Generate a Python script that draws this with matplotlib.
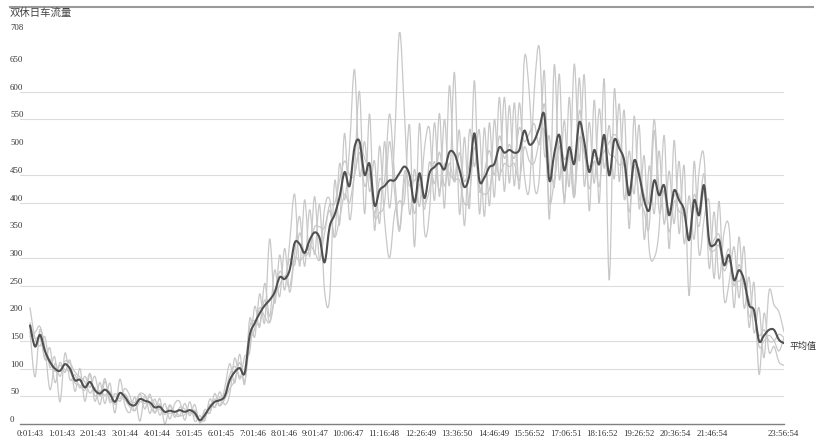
import numpy as np
import matplotlib
matplotlib.use('Agg')
import matplotlib.pyplot as plt
from matplotlib.lines import Line2D
from matplotlib.path import Path
from matplotlib.patches import PathPatch
from matplotlib.transforms import blended_transform_factory

plt.rcParams['font.family'] = ['Liberation Serif', 'Noto Sans CJK SC']

# ---------------------------------- data ---------------- #

title = '双休日车流量'

tick_labels = ['0:01:43', '1:01:43', '2:01:43', '3:01:44', '4:01:44', '5:01:45',
               '6:01:45', '7:01:46', '8:01:46', '9:01:47', '10:06:47', '11:16:48',
               '12:26:49', '13:36:50', '14:46:49', '15:56:52', '17:06:51', '18:16:52',
               '19:26:52', '20:36:54', '21:46:54', '23:56:54']

yticks = [0, 50, 100, 150, 200, 250, 300, 350, 400, 450, 500, 550, 600, 650, 708]

# average over the weekends
avg = [178, 140, 161, 132, 112, 100, 96, 108, 100, 79,
       80, 66, 76, 61, 55, 62, 54, 40, 56, 49,
       36, 34, 45, 42, 39, 30, 31, 22, 24, 22,
       25, 22, 25, 20, 7, 16, 30, 40, 43, 50,
       79, 94, 101, 92, 160, 182, 200, 214, 224, 238,
       265, 262, 278, 327, 325, 309, 332, 346, 336, 292,
       356, 378, 410, 455, 430, 500, 510, 450, 470, 395,
       422, 430, 440, 440, 453, 465, 450, 400, 453, 408,
       453, 464, 471, 460, 491, 488, 460, 428, 450, 525,
       440, 445, 464, 470, 500, 490, 495, 490, 495, 530,
       505, 512, 535, 558, 440, 489, 522, 458, 500, 470,
       545, 510, 455, 495, 469, 522, 449, 513, 498, 476,
       413, 476, 449, 404, 386, 440, 413, 431, 377, 422,
       404, 386, 332, 404, 377, 431, 332, 323, 332, 287,
       305, 260, 278, 260, 215, 205, 150, 160, 170, 170, 152, 146]

# single weekends
day1 = [210, 155, 141, 157, 102, 120, 40, 128, 80, 89,
        65, 86, 66, 86, 50, 82, 39, 55, 46, 64,
        51, 24, 55, 27, 54, 20, 46, 0, 34, 17,
        15, 37, 15, 35, 2, 26, 20, 55, 33, 65,
        109, 74, 126, 72, 190, 157, 235, 184, 334, 218,
        305, 242, 328, 415, 285, 405, 302, 411, 296, 390,
        406, 338, 470, 405, 500, 640, 450, 510, 420, 475,
        362, 510, 390, 510, 708, 560, 380, 460, 393, 498,
        533, 404, 561, 390, 611, 438, 530, 358, 530, 465,
        530, 375, 544, 410, 590, 420, 575, 430, 580, 450,
        425, 602, 680, 488, 520, 429, 632, 398, 590, 410,
        625, 430, 545, 435, 569, 462, 539, 443, 578, 406,
        493, 416, 539, 334, 466, 380, 493, 361, 457, 362,
        474, 326, 412, 334, 457, 481, 282, 383, 262, 347,
        355, 210, 338, 210, 265, 165, 210, 120, 240, 215, 202, 166]

day2 = [168, 85, 171, 117, 137, 75, 111, 93, 115, 59,
        100, 41, 91, 41, 75, 37, 74, 20, 81, 34,
        21, 49, 5, 52, 19, 45, 16, 37, 9, 37,
        40, 7, 40, 5, 15, 6, 45, 30, 58, 35,
        54, 119, 81, 122, 130, 212, 175, 254, 194, 278,
        230, 317, 238, 307, 375, 285, 387, 306, 396, 240,
        228, 438, 360, 525, 370, 460, 600, 380, 560, 350,
        502, 370, 300, 380, 403, 405, 540, 320, 543, 348,
        383, 544, 411, 550, 431, 635, 380, 518, 390, 620,
        380, 535, 394, 550, 440, 590, 435, 580, 425, 660,
        595, 432, 445, 638, 370, 649, 442, 548, 430, 650,
        475, 630, 385, 585, 399, 622, 260, 603, 438, 566,
        353, 556, 389, 484, 316, 300, 353, 521, 317, 512,
        344, 466, 232, 474, 307, 371, 402, 263, 402, 227,
        255, 320, 228, 320, 175, 255, 90, 200, 130, 140, 112, 106]

day3 = [158, 165, 176, 137, 62, 110, 86, 113, 110, 94,
        85, 76, 56, 66, 35, 77, 44, 50, 41, 54,
        41, 39, 55, 52, 34, 20, 36, 17, 34, 12,
        30, 27, 20, 25, 4, 11, 35, 30, 48, 55,
        89, 104, 86, 97, 175, 187, 180, 224, 184, 228,
        275, 262, 298, 287, 345, 305, 317, 356, 356, 355,
        396, 398, 440, 475, 450, 450, 500, 480, 450, 380,
        442, 440, 560, 450, 353, 455, 430, 440, 443, 388,
        473, 434, 491, 430, 471, 438, 490, 438, 470, 515,
        420, 455, 494, 450, 520, 480, 505, 480, 535, 510,
        525, 542, 505, 578, 470, 439, 512, 478, 490, 410,
        565, 490, 465, 485, 479, 492, 509, 523, 508, 466,
        423, 466, 459, 414, 406, 550, 423, 421, 387, 412,
        414, 376, 342, 414, 387, 451, 322, 333, 342, 297,
        315, 250, 288, 250, 225, 195, 160, 170, 150, 150, 162, 156]

day4 = [183, 155, 156, 117, 117, 95, 106, 98, 95, 74,
        70, 61, 91, 51, 60, 52, 59, 35, 56, 44,
        31, 24, 40, 37, 49, 35, 26, 22, 19, 22,
        15, 17, 25, 15, 7, 21, 20, 45, 33, 45,
        64, 79, 111, 77, 145, 172, 210, 194, 184, 228,
        250, 267, 248, 299, 295, 305, 322, 311, 296, 345,
        386, 338, 370, 415, 400, 450, 490, 430, 450, 375,
        382, 400, 510, 420, 348, 440, 450, 380, 433, 398,
        423, 474, 421, 470, 451, 441, 440, 398, 410, 500,
        430, 415, 424, 470, 450, 470, 465, 470, 440, 500,
        475, 472, 510, 528, 400, 439, 502, 408, 490, 410,
        515, 490, 425, 475, 429, 512, 488, 483, 468, 466,
        383, 466, 409, 384, 356, 530, 383, 421, 347, 402,
        384, 376, 342, 394, 357, 421, 322, 313, 322, 277,
        295, 260, 258, 260, 195, 205, 140, 150, 160, 150, 132, 156]


def smooth_line(ax, xs, ys, **kwargs):
    # spreadsheet style smoothed line: cubic bezier through every point
    p = np.column_stack([xs, ys]).astype(float)
    ext = np.vstack([p[0], p, p[-1]])
    verts = [p[0]]
    codes = [Path.MOVETO]
    for i in range(len(p) - 1):
        c1 = ext[i + 1] + (ext[i + 2] - ext[i]) / 6.0
        c2 = ext[i + 2] - (ext[i + 3] - ext[i + 1]) / 6.0
        verts += [c1, c2, p[i + 1]]
        codes += [Path.CURVE4] * 3
    patch = PathPatch(Path(verts, codes), fill=False, capstyle='round',
                      joinstyle='round', **kwargs)
    ax.add_patch(patch)
    return patch


# ---------------------------------- plot ---------------- #

fig = plt.figure(figsize=(8.26, 4.43), dpi=100)
ax = fig.add_axes([20 / 826, 19 / 443, 764 / 826, 392 / 443])

x = np.arange(len(avg))
for d in [day1, day2, day3, day4]:
    smooth_line(ax, x, d, edgecolor='#c8c8c8', lw=0.9, zorder=2)
smooth_line(ax, x, avg, edgecolor='#505050', lw=1.5, zorder=3)
ax.annotate('平均值', xy=(x[-1], avg[-1]), xytext=(4, -2), textcoords='offset points',
            va='center', ha='left', fontsize=6.5, color='#333333')

ax.set_xlim(-2, len(avg) - 1)
ax.set_ylim(0, yticks[-1])

# only some grid lines survive in the picture
for v in [50, 100, 150, 250, 300, 400, 450, 550, 600]:
    ax.axhline(v, color='#dcdcdc', lw=0.8, zorder=1)

for s in ['top', 'right', 'left']:
    ax.spines[s].set_visible(False)
ax.spines['bottom'].set_color('#808080')
ax.spines['bottom'].set_linewidth(1.0)

# tick label positions, measured on the picture
tick_px = [30, 62, 93, 125, 157, 189, 221, 253, 284, 316, 348,
           384, 421, 457, 494, 530, 567, 603, 640, 676, 713, 784]
ax.set_xticks([(p - 30) / 5.0 for p in tick_px])
ax.set_xticklabels(tick_labels, fontsize=6.3, color='#333333')
ax.tick_params(axis='x', length=0, pad=4)
ax.set_yticks([])

trans = blended_transform_factory(fig.transFigure, ax.transData)
for v in yticks:
    ax.text(10 / 826, v, str(v), transform=trans, ha='left', va='bottom',
            fontsize=6.3, color='#333333')

fig.text(10 / 826, 1 - 13 / 443, title, ha='left', va='center', fontsize=7.5,
         color='#444444')
fig.add_artist(Line2D([10 / 826, 813 / 826], [1 - 6.5 / 443, 1 - 6.5 / 443],
                      color='#9a9a9a', lw=1.5, transform=fig.transFigure))

fig.savefig('out.png', dpi=100)
